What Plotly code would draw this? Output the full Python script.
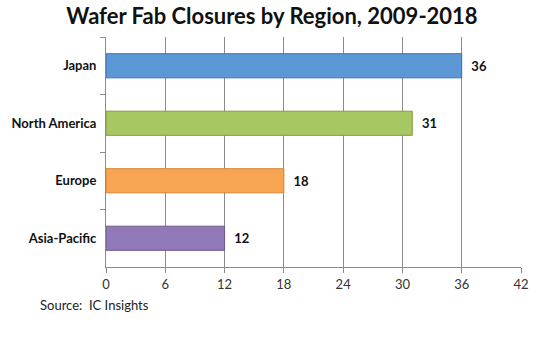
import plotly.graph_objects as go

regions = ["Japan", "North America", "Europe", "Asia-Pacific"]
closures = [36, 31, 18, 12]
bar_colors = ["#5B96D5", "#A6C761", "#F8A553", "#9179B8"]
line_colors = ["#3F74AE", "#7F9C42", "#D9843A", "#6E5890"]
x_ticks = [0, 6, 12, 18, 24, 30, 36, 42]

fig = go.Figure()
fig.add_trace(go.Bar(
    y=regions, x=closures, orientation="h",
    marker=dict(color=bar_colors, line=dict(color=line_colors, width=1)),
    width=0.42,
    texttemplate="  <b>%{x}</b>", textposition="outside",
    textfont=dict(family="Lato, Open Sans, sans-serif", size=13, color="#111111"),
    cliponaxis=False,
))

fig.update_layout(
    width=544, height=338,
    margin=dict(l=106, r=23, t=37, b=71),
    paper_bgcolor="white", plot_bgcolor="white",
    showlegend=False,
    title=dict(text="<b>Wafer Fab Closures by Region, 2009-2018</b>",
               x=0.5, xanchor="center", y=0.975, yanchor="top",
               font=dict(family="Lato, Open Sans, sans-serif", size=22, color="#111111")),
    font=dict(family="Lato, Open Sans, sans-serif", color="#222222"),
)
fig.update_xaxes(
    range=[0, 42], tickvals=x_ticks, ticktext=[str(t) for t in x_ticks],
    showgrid=True, gridcolor="#8C8C8C", gridwidth=1,
    showline=True, linecolor="#8C8C8C", linewidth=1,
    ticks="outside", ticklen=5, tickcolor="#8C8C8C",
    tickfont=dict(size=13, color="#333333"),
    zeroline=False,
)
fig.update_yaxes(
    categoryorder="array", categoryarray=regions, autorange="reversed",
    showline=True, linecolor="#8C8C8C", linewidth=1,
    ticks="outside", ticklen=5, tickcolor="#8C8C8C", tickson="boundaries",
    tickfont=dict(size=13, color="#111111", family="Lato, Open Sans, sans-serif"),
    tickprefix="<b>", ticksuffix="</b>",
    ticklabelstandoff=6,
    showgrid=False,
)

fig.add_annotation(text="Source:  IC Insights", xref="paper", yref="paper",
                   x=-0.163, y=-0.165, xanchor="left", yanchor="middle",
                   showarrow=False, font=dict(size=13, color="#222222"))

fig.write_html("out.html")
